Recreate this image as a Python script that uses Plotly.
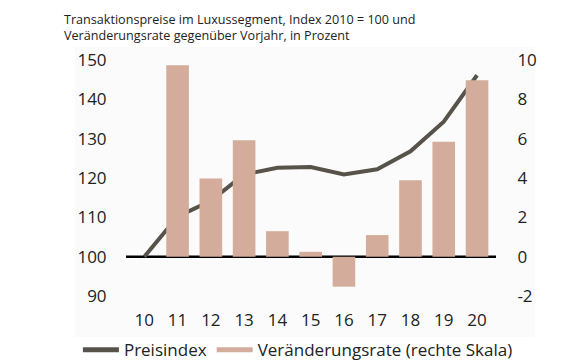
import plotly.graph_objects as go

years = ["10", "11", "12", "13", "14", "15", "16", "17", "18", "19", "20"]
preisindex = [100, 110.2, 114.2, 120.9, 122.6, 122.8, 120.9, 122.2, 126.8, 134.3, 146.1]
rate = [None, 9.73, 3.97, 5.92, 1.30, 0.25, -1.52, 1.10, 3.89, 5.84, 8.97]
left_ticks = [90, 100, 110, 120, 130, 140, 150]
right_ticks = [-2, 0, 2, 4, 6, 8, 10]
right_labels = ["-2", "0", "2", "4", "6", "8", "10"]

title_lines = ["Transaktionspreise im Luxussegment, Index 2010 = 100 und",
               "Veränderungsrate gegenüber Vorjahr, in Prozent"]

BAR = "#d4ac9b"
LINE = "#57534b"
FONT = "Open Sans, Noto Sans, sans-serif"

fig = go.Figure()
fig.add_trace(go.Bar(x=years, y=rate, yaxis="y2", marker=dict(color=BAR, line=dict(width=0)),
                     width=0.68, showlegend=False, name="Veränderungsrate (rechte Skala)"))
fig.add_trace(go.Scatter(x=years, y=preisindex, mode="lines", line=dict(color=LINE, width=4),
                         name="Preisindex", showlegend=False))
# legend proxies
fig.add_trace(go.Scatter(x=[None], y=[None], mode="lines", line=dict(color=LINE, width=4), name="Preisindex"))
fig.add_trace(go.Scatter(x=[None], y=[None], mode="lines", line=dict(color=BAR, width=11),
                         name="Veränderungsrate (rechte Skala)"))

fig.update_layout(
    width=573, height=360,
    margin=dict(l=118, r=85, t=44, b=64, autoexpand=False),
    paper_bgcolor="white", plot_bgcolor="rgba(0,0,0,0)",
    font=dict(family=FONT, size=17, color="#222"),
    xaxis=dict(type="category", range=[-0.55, 10.57], showgrid=False, showline=False, zeroline=False,
               ticks="outside", ticklen=1, tickcolor="rgba(0,0,0,0)", tickfont=dict(size=17)),
    yaxis=dict(range=[88, 152], tickvals=left_ticks, showgrid=False, zeroline=False, showline=False,
               ticks="outside", ticklen=15, tickcolor="rgba(0,0,0,0)", tickfont=dict(size=17)),
    yaxis2=dict(range=[-2.4, 10.4], tickvals=right_ticks, ticktext=right_labels, overlaying="y",
                side="right", showgrid=False, zeroline=False, showline=False, ticks="outside",
                ticklen=17, tickcolor="rgba(0,0,0,0)", tickfont=dict(size=17)),
    legend=dict(orientation="h", xref="paper", yref="paper", x=-0.13, xanchor="left",
                y=-0.112, yanchor="top", font=dict(size=17), itemwidth=36,
                tracegroupgap=0, itemsizing="constant", bgcolor="rgba(0,0,0,0)"),
    shapes=[
        dict(type="rect", xref="paper", yref="paper", x0=-0.138, x1=1.105, y0=-0.131, y1=1.02,
             fillcolor="#fbfbfb", line=dict(width=0), layer="below"),
        dict(type="line", xref="paper", yref="y", x0=0, x1=1, y0=100, y1=100,
             line=dict(color="black", width=2.5), layer="below"),
    ],
    annotations=[
        dict(text=title_lines[0] + "<br>" + title_lines[1], xref="paper", yref="paper",
             x=-0.173, y=1.024, xanchor="left", yanchor="bottom", showarrow=False, align="left",
             font=dict(size=12.6, color="#222", family=FONT)),
    ],
)

fig.write_html("out.html")
